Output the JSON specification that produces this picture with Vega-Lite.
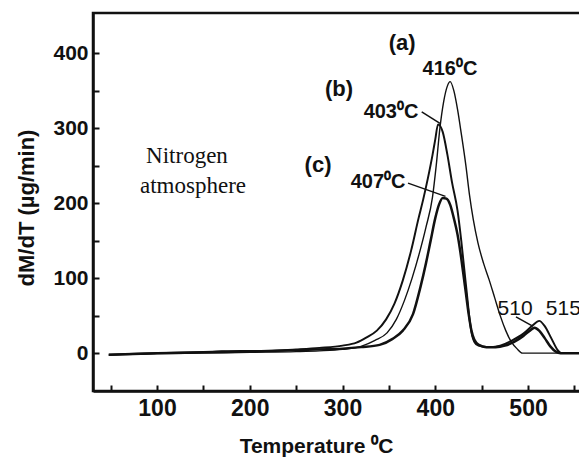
{
  "$schema": "https://vega.github.io/schema/vega-lite/v6.json",
  "width": 488,
  "height": 378,
  "autosize": {"type": "none"},
  "padding": {"left": 93, "top": 13, "right": 0, "bottom": 68},
  "background": "white",
  "config": {
    "view": {"stroke": "#111", "strokeWidth": 2.5},
    "font": "Liberation Sans"
  },
  "resolve": {"axis": {"x": "independent", "y": "independent"}},
  "datasets": {
    "curves": [
      {"s": "b", "T": 48, "v": -2}, {"s": "b", "T": 70, "v": -1}, {"s": "b", "T": 100, "v": 0}, {"s": "b", "T": 130, "v": 1}, {"s": "b", "T": 160, "v": 2}, {"s": "b", "T": 190, "v": 3}, {"s": "b", "T": 220, "v": 3}, {"s": "b", "T": 250, "v": 5}, {"s": "b", "T": 275, "v": 7}, {"s": "b", "T": 300, "v": 10}, {"s": "b", "T": 315, "v": 14}, {"s": "b", "T": 326, "v": 21}, {"s": "b", "T": 337, "v": 30}, {"s": "b", "T": 347, "v": 45}, {"s": "b", "T": 356, "v": 66}, {"s": "b", "T": 365, "v": 97}, {"s": "b", "T": 374, "v": 137}, {"s": "b", "T": 382, "v": 180}, {"s": "b", "T": 387, "v": 205}, {"s": "b", "T": 392, "v": 233}, {"s": "b", "T": 397, "v": 264}, {"s": "b", "T": 400, "v": 285}, {"s": "b", "T": 403, "v": 305}, {"s": "b", "T": 408, "v": 295}, {"s": "b", "T": 413, "v": 265}, {"s": "b", "T": 418, "v": 228}, {"s": "b", "T": 424, "v": 190}, {"s": "b", "T": 428, "v": 150}, {"s": "b", "T": 431, "v": 115}, {"s": "b", "T": 434, "v": 80}, {"s": "b", "T": 437, "v": 45}, {"s": "b", "T": 440, "v": 22}, {"s": "b", "T": 444, "v": 12}, {"s": "b", "T": 450, "v": 9}, {"s": "b", "T": 460, "v": 8}, {"s": "b", "T": 470, "v": 10}, {"s": "b", "T": 483, "v": 17}, {"s": "b", "T": 495, "v": 26}, {"s": "b", "T": 505, "v": 37}, {"s": "b", "T": 512, "v": 43}, {"s": "b", "T": 518, "v": 36}, {"s": "b", "T": 525, "v": 20}, {"s": "b", "T": 532, "v": 4}, {"s": "b", "T": 536, "v": 0}, {"s": "b", "T": 557, "v": 0},
      {"s": "c", "T": 48, "v": -2}, {"s": "c", "T": 100, "v": 0}, {"s": "c", "T": 150, "v": 1}, {"s": "c", "T": 200, "v": 2}, {"s": "c", "T": 250, "v": 4}, {"s": "c", "T": 275, "v": 5}, {"s": "c", "T": 300, "v": 6}, {"s": "c", "T": 320, "v": 8}, {"s": "c", "T": 340, "v": 11}, {"s": "c", "T": 354, "v": 19}, {"s": "c", "T": 365, "v": 30}, {"s": "c", "T": 376, "v": 52}, {"s": "c", "T": 384, "v": 88}, {"s": "c", "T": 390, "v": 120}, {"s": "c", "T": 395, "v": 150}, {"s": "c", "T": 400, "v": 180}, {"s": "c", "T": 404, "v": 198}, {"s": "c", "T": 408, "v": 207}, {"s": "c", "T": 412, "v": 206}, {"s": "c", "T": 416, "v": 198}, {"s": "c", "T": 420, "v": 180}, {"s": "c", "T": 424, "v": 158}, {"s": "c", "T": 427, "v": 135}, {"s": "c", "T": 430, "v": 108}, {"s": "c", "T": 433, "v": 80}, {"s": "c", "T": 436, "v": 52}, {"s": "c", "T": 439, "v": 30}, {"s": "c", "T": 442, "v": 18}, {"s": "c", "T": 447, "v": 11}, {"s": "c", "T": 455, "v": 8}, {"s": "c", "T": 465, "v": 8}, {"s": "c", "T": 475, "v": 10}, {"s": "c", "T": 485, "v": 15}, {"s": "c", "T": 495, "v": 23}, {"s": "c", "T": 502, "v": 30}, {"s": "c", "T": 507, "v": 34}, {"s": "c", "T": 512, "v": 30}, {"s": "c", "T": 518, "v": 20}, {"s": "c", "T": 524, "v": 9}, {"s": "c", "T": 530, "v": 2}, {"s": "c", "T": 535, "v": 0}, {"s": "c", "T": 557, "v": 0},
      {"s": "a", "T": 48, "v": -3}, {"s": "a", "T": 100, "v": -1}, {"s": "a", "T": 150, "v": 0}, {"s": "a", "T": 200, "v": 1}, {"s": "a", "T": 250, "v": 2}, {"s": "a", "T": 275, "v": 3}, {"s": "a", "T": 300, "v": 5}, {"s": "a", "T": 320, "v": 9}, {"s": "a", "T": 335, "v": 17}, {"s": "a", "T": 348, "v": 27}, {"s": "a", "T": 358, "v": 45}, {"s": "a", "T": 367, "v": 71}, {"s": "a", "T": 375, "v": 100}, {"s": "a", "T": 383, "v": 134}, {"s": "a", "T": 390, "v": 168}, {"s": "a", "T": 397, "v": 208}, {"s": "a", "T": 401, "v": 250}, {"s": "a", "T": 405, "v": 300}, {"s": "a", "T": 409, "v": 335}, {"s": "a", "T": 413, "v": 356}, {"s": "a", "T": 416, "v": 362}, {"s": "a", "T": 420, "v": 350}, {"s": "a", "T": 424, "v": 325}, {"s": "a", "T": 428, "v": 293}, {"s": "a", "T": 433, "v": 250}, {"s": "a", "T": 437, "v": 210}, {"s": "a", "T": 441, "v": 178}, {"s": "a", "T": 446, "v": 147}, {"s": "a", "T": 452, "v": 120}, {"s": "a", "T": 458, "v": 98}, {"s": "a", "T": 464, "v": 74}, {"s": "a", "T": 470, "v": 50}, {"s": "a", "T": 476, "v": 30}, {"s": "a", "T": 482, "v": 15}, {"s": "a", "T": 488, "v": 6}, {"s": "a", "T": 494, "v": 0}, {"s": "a", "T": 557, "v": 0}
    ],
    "leaders": [
      {"T": 385.4, "v": 321.7, "T2": 405.1, "v2": 306.3},
      {"T": 370.6, "v": 226.7, "T2": 411, "v2": 209},
      {"T": 487, "v": 48.4, "T2": 505, "v2": 36}
    ],
    "letters": [
      {"text": "(a)", "T": 364.2, "v": 404},
      {"text": "(b)", "T": 296.2, "v": 342.7},
      {"text": "(c)", "T": 273.6, "v": 241}
    ],
    "peaks": [
      {"text": "416⁰C", "T": 415.9, "v": 370.7},
      {"text": "403⁰C", "T": 352.3, "v": 313},
      {"text": "407⁰C", "T": 338.3, "v": 220}
    ],
    "second": [
      {"text": "510", "T": 486, "v": 50.7},
      {"text": "515", "T": 538, "v": 50.7}
    ],
    "atmos": [
      {"text": "Nitrogen", "T": 132.3, "v": 253},
      {"text": "atmosphere", "T": 138.8, "v": 213}
    ]
  },
  "layer": [
    {
      "data": {"name": "curves"},
      "mark": {"type": "line", "interpolate": "monotone", "strokeJoin": "round", "color": "#111"},
      "encoding": {
        "x": {
          "field": "T", "type": "quantitative",
          "scale": {"domain": [31, 557.1], "nice": false, "zero": false},
          "axis": {
            "orient": "bottom",
            "values": [100, 200, 300, 400, 500],
            "grid": false,
            "domainColor": "#111", "domainWidth": 2.5,
            "ticks": true, "tickSize": 0, "tickColor": "#111",
            "labelPadding": 6,
            "labelFont": "Liberation Sans", "labelFontWeight": "bold", "labelFontSize": 23, "labelColor": "#111",
            "title": "Temperature ⁰C",
            "titleFont": "Liberation Sans", "titleFontWeight": "bold", "titleFontSize": 21, "titleColor": "#111",
            "titleX": 223, "titleY": 61, "titleAlign": "center", "titleBaseline": "alphabetic"
          }
        },
        "y": {
          "field": "v", "type": "quantitative",
          "scale": {"domain": [-50.5, 453.5], "nice": false, "zero": false},
          "axis": {
            "orient": "left",
            "values": [0, 100, 200, 300, 400],
            "grid": false,
            "domainColor": "#111", "domainWidth": 2.5,
            "ticks": true, "tickSize": 0, "tickColor": "#111",
            "labelPadding": 5,
            "labelFont": "Liberation Sans", "labelFontWeight": "bold", "labelFontSize": 21, "labelColor": "#111",
            "title": "dM/dT (µg/min)",
            "titleFont": "Liberation Sans", "titleFontWeight": "bold", "titleFontSize": 22, "titleColor": "#111",
            "titleX": -60, "titleY": 194.5, "titleAngle": -90, "titleAlign": "center", "titleBaseline": "alphabetic"
          }
        },
        "detail": {"field": "s", "type": "nominal"},
        "strokeWidth": {"field": "s", "type": "nominal", "scale": {"domain": ["a", "b", "c"], "range": [1.4, 2.5, 2.1]}, "legend": null}
      }
    },
    {
      "data": {"name": "leaders"},
      "mark": {"type": "rule", "color": "#111", "strokeWidth": 1.5},
      "encoding": {
        "x": {
          "field": "T", "type": "quantitative",
          "axis": {
            "orient": "bottom", "offset": -6,
            "values": [50, 100, 150, 200, 250, 300, 350, 400, 450, 500, 550],
            "domain": false, "labels": false, "grid": false,
            "ticks": true, "tickSize": 6, "tickWidth": 2, "tickColor": "#111",
            "title": null
          }
        },
        "y": {
          "field": "v", "type": "quantitative",
          "axis": {
            "orient": "left", "offset": -6,
            "values": [0, 50, 100, 150, 200, 250, 300, 350, 400],
            "domain": false, "labels": false, "grid": false,
            "ticks": true, "tickSize": 6, "tickWidth": 2, "tickColor": "#111",
            "title": null
          }
        },
        "x2": {"field": "T2"},
        "y2": {"field": "v2"}
      }
    },
    {
      "data": {"name": "letters"},
      "mark": {"type": "text", "font": "Liberation Sans", "fontWeight": "bold", "fontSize": 22, "color": "#111", "align": "center", "baseline": "alphabetic"},
      "encoding": {
        "x": {"field": "T", "type": "quantitative", "axis": null},
        "y": {"field": "v", "type": "quantitative", "axis": null},
        "text": {"field": "text"}
      }
    },
    {
      "data": {"name": "peaks"},
      "mark": {"type": "text", "font": "Liberation Sans", "fontWeight": "bold", "fontSize": 20, "color": "#111", "align": "center", "baseline": "alphabetic"},
      "encoding": {
        "x": {"field": "T", "type": "quantitative", "axis": null},
        "y": {"field": "v", "type": "quantitative", "axis": null},
        "text": {"field": "text"}
      }
    },
    {
      "data": {"name": "second"},
      "mark": {"type": "text", "font": "Liberation Sans", "fontSize": 21, "color": "#111", "align": "center", "baseline": "alphabetic"},
      "encoding": {
        "x": {"field": "T", "type": "quantitative", "axis": null},
        "y": {"field": "v", "type": "quantitative", "axis": null},
        "text": {"field": "text"}
      }
    },
    {
      "data": {"name": "atmos"},
      "mark": {"type": "text", "font": "Liberation Serif", "fontSize": 23, "color": "#111", "align": "center", "baseline": "alphabetic"},
      "encoding": {
        "x": {"field": "T", "type": "quantitative", "axis": null},
        "y": {"field": "v", "type": "quantitative", "axis": null},
        "text": {"field": "text"}
      }
    }
  ]
}
